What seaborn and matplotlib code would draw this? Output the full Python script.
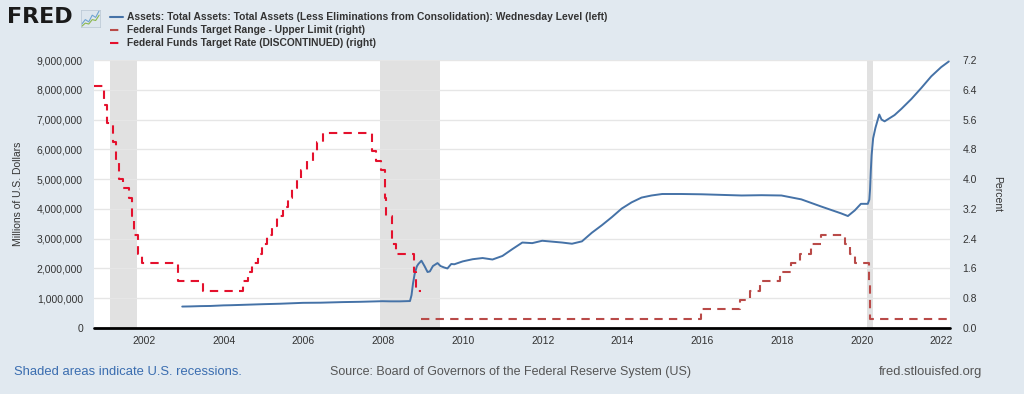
import matplotlib
matplotlib.use('Agg')
import matplotlib.pyplot as plt
import matplotlib.dates as mdates
from matplotlib.lines import Line2D
from matplotlib.ticker import FuncFormatter
import seaborn as sns
import pandas as pd

# Total assets, millions of dollars
asset_dates = [
    "2002-12-18", "2003-03-05", "2003-06-04", "2003-09-03", "2003-12-31", "2004-03-03",
    "2004-06-02", "2004-12-29", "2005-06-01", "2005-12-28", "2006-06-07", "2006-12-27",
    "2007-06-06", "2007-12-26", "2008-03-05", "2008-06-04", "2008-09-03", "2008-09-17",
    "2008-10-01", "2008-10-15", "2008-11-05", "2008-11-19", "2008-12-17", "2009-01-14",
    "2009-02-11", "2009-03-04", "2009-04-01", "2009-05-13", "2009-06-10", "2009-07-15",
    "2009-08-12", "2009-09-16", "2009-10-14", "2009-12-30", "2010-03-31", "2010-06-30",
    "2010-09-29", "2010-12-29", "2011-03-30", "2011-06-29", "2011-09-28", "2011-12-28",
    "2012-03-28", "2012-06-27", "2012-09-26", "2012-12-26", "2013-03-27", "2013-06-26",
    "2013-09-25", "2013-12-25", "2014-03-26", "2014-06-25", "2014-09-24", "2014-12-31",
    "2015-06-24", "2015-12-30", "2016-06-29", "2016-12-28", "2017-06-28", "2017-12-27",
    "2018-06-27", "2018-12-26", "2019-06-26", "2019-08-28", "2019-10-30", "2019-12-25",
    "2020-02-26", "2020-03-11", "2020-03-18", "2020-03-25", "2020-04-01", "2020-04-15",
    "2020-05-06", "2020-06-10", "2020-07-01", "2020-07-29", "2020-10-28", "2020-12-30",
    "2021-03-31", "2021-06-30", "2021-09-29", "2021-12-29", "2022-03-09",
]
asset_values = [
    720000, 725000, 735000, 740000, 760000, 765000,
    775000, 800000, 815000, 845000, 850000, 870000,
    880000, 900000, 895000, 895000, 905000, 1100000,
    1500000, 1800000, 2070000, 2150000, 2260000, 2080000,
    1880000, 1900000, 2080000, 2180000, 2080000, 2030000,
    2000000, 2150000, 2140000, 2237000, 2310000, 2350000,
    2300000, 2420000, 2650000, 2870000, 2850000, 2930000,
    2900000, 2870000, 2830000, 2910000, 3200000, 3450000,
    3720000, 4010000, 4220000, 4380000, 4450000, 4500000,
    4500000, 4490000, 4470000, 4450000, 4460000, 4450000,
    4320000, 4080000, 3850000, 3760000, 3950000, 4170000,
    4170000, 4310000, 4670000, 5300000, 5800000, 6370000,
    6720000, 7170000, 7000000, 6940000, 7150000, 7360000,
    7690000, 8060000, 8450000, 8760000, 8950000,
]

# Federal funds target rate (discontinued), percent
target_dates = [
    "2000-10-01", "2001-01-03", "2001-01-31", "2001-03-20", "2001-04-18", "2001-05-15",
    "2001-06-27", "2001-08-21", "2001-09-17", "2001-10-02", "2001-11-06", "2001-12-11",
    "2002-11-06", "2003-06-25", "2004-06-30", "2004-08-10", "2004-09-21", "2004-11-10",
    "2004-12-14", "2005-02-02", "2005-03-22", "2005-05-03", "2005-06-30", "2005-08-09",
    "2005-09-20", "2005-11-01", "2005-12-13", "2006-01-31", "2006-03-28", "2006-05-10",
    "2006-06-29", "2007-09-18", "2007-10-31", "2007-12-11", "2008-01-22", "2008-01-30",
    "2008-03-18", "2008-04-30", "2008-10-08", "2008-10-29", "2008-12-16",
]
target_values = [
    6.5, 6.0, 5.5, 5.0, 4.5, 4.0,
    3.75, 3.5, 3.0, 2.5, 2.0, 1.75,
    1.25, 1.0, 1.25, 1.5, 1.75, 2.0,
    2.25, 2.5, 2.75, 3.0, 3.25, 3.5,
    3.75, 4.0, 4.25, 4.5, 4.75, 5.0,
    5.25, 4.75, 4.5, 4.25, 3.5, 3.0,
    2.25, 2.0, 1.5, 1.0, 1.0,
]

# Federal funds target range, upper limit, percent
upper_dates = [
    "2008-12-16", "2015-12-17", "2016-12-15", "2017-03-16", "2017-06-15", "2017-12-14",
    "2018-03-22", "2018-06-14", "2018-09-27", "2018-12-20", "2019-08-01", "2019-09-19",
    "2019-10-31", "2020-03-04", "2020-03-16", "2022-03-20",
]
upper_values = [
    0.25, 0.5, 0.75, 1.0, 1.25, 1.5,
    1.75, 2.0, 2.25, 2.5, 2.25, 2.0,
    1.75, 1.25, 0.25, 0.25,
]

recessions = [("2001-03-01", "2001-11-01"), ("2007-12-01", "2009-06-01"), ("2020-02-15", "2020-04-15")]

assets = pd.DataFrame({"date": pd.to_datetime(asset_dates), "value": asset_values})
target = pd.DataFrame({"date": pd.to_datetime(target_dates), "value": target_values})
upper = pd.DataFrame({"date": pd.to_datetime(upper_dates), "value": upper_values})

BG = "#e1e9f0"
BLUE = "#4572a7"
RED = "#e4112d"
BROWN = "#b94a48"
TXT = "#333333"

sns.set_style("white")
plt.rcParams['font.family'] = ['Liberation Sans', 'DejaVu Sans']

fig = plt.figure(figsize=(10.24, 3.94), dpi=100, facecolor=BG)
ax = fig.add_axes([94 / 1024, 1 - 328 / 394, 856 / 1024, 268 / 394])
ax.set_facecolor("white")
ax2 = ax.twinx()

for start, end in recessions:
    ax.axvspan(pd.Timestamp(start), pd.Timestamp(end), color="#e1e1e1", lw=0, zorder=0)

sns.lineplot(data=assets, x="date", y="value", ax=ax, color=BLUE, lw=1.4, zorder=3)
sns.lineplot(data=target, x="date", y="value", ax=ax2, color=RED, lw=1.5,
             drawstyle="steps-post", linestyle=(0, (4, 3)))
sns.lineplot(data=upper, x="date", y="value", ax=ax2, color=BROWN, lw=1.5,
             drawstyle="steps-post", linestyle=(0, (4, 3)))

xmin, xmax = pd.Timestamp("2000-10-01"), pd.Timestamp("2022-03-20")
ax.set_xlim(xmin, xmax)
ax.set_ylim(0, 9000000)
ax2.set_ylim(0, 7.2)
ax.set_yticks(range(0, 9000001, 1000000))
ax2.set_yticks([i * 0.8 for i in range(10)])
ax.yaxis.set_major_formatter(FuncFormatter(lambda v, p: f"{int(v):,}"))
ax2.yaxis.set_major_formatter(FuncFormatter(lambda v, p: f"{v:.1f}"))
ax.xaxis.set_major_locator(mdates.YearLocator(2))
ax.xaxis.set_major_formatter(mdates.DateFormatter("%Y"))

ax.grid(axis="y", color="#e6e6e6", lw=1)
ax.set_axisbelow(True)
for a in (ax, ax2):
    for s in ("top", "left", "right", "bottom"):
        a.spines[s].set_visible(False)
    a.tick_params(length=0, labelsize=7.5, colors=TXT)
ax.axhline(0, color="black", lw=2, zorder=5, clip_on=False)
ax.tick_params(axis="x", pad=6)
ax.tick_params(axis="y", pad=8)
ax2.tick_params(axis="y", pad=9)
ax.set_xlabel("")
ax2.set_xlabel("")
ax.set_ylabel("Millions of U.S. Dollars", fontsize=7.5, color=TXT, labelpad=10)
ax2.set_ylabel("Percent", fontsize=7.5, color=TXT, rotation=270, labelpad=18)

# header: logo + legend
fig.text(7 / 1024, 1 - 17 / 394, "FRED", fontsize=16, fontweight="bold", color="#1a1a1a",
         va="center", ha="left", family="DejaVu Sans")
icon = fig.add_axes([81 / 1024, 1 - 27 / 394, 19 / 1024, 17 / 394])
icon.set_facecolor("#dde6ee")
icon.plot([0, 1, 2, 3, 4, 5], [1, 2, 1.5, 3, 2.5, 4], color="#6fa3d0", lw=0.8)
icon.plot([0, 1, 2, 3, 4, 5], [0.5, 1.2, 1.0, 2.0, 1.8, 3.0], color="#8cb84e", lw=0.8)
icon.set_xticks([])
icon.set_yticks([])
for s in icon.spines.values():
    s.set_color("#b8c6d3")
    s.set_linewidth(0.5)

handles = [
    Line2D([], [], color=BLUE, lw=1.5),
    Line2D([], [], color=BROWN, lw=1.5, linestyle=(0, (4, 3))),
    Line2D([], [], color=RED, lw=1.5, linestyle=(0, (4, 3))),
]
labels = [
    "Assets: Total Assets: Total Assets (Less Eliminations from Consolidation): Wednesday Level (left)",
    "Federal Funds Target Range - Upper Limit (right)",
    "Federal Funds Target Rate (DISCONTINUED) (right)",
]
fig.legend(handles, labels, loc="upper left", bbox_to_anchor=(105 / 1024, 1 - 7 / 394),
           frameon=False, handlelength=1.3, handletextpad=0.4,
           labelspacing=0.3, borderpad=0, prop={"weight": "bold", "size": 7.35},
           labelcolor=TXT)

# footer
fig.text(14 / 1024, 1 - 372 / 394, "Shaded areas indicate U.S. recessions.", fontsize=9.4,
         color="#3a6db0", va="center", ha="left")
fig.text(330 / 1024, 1 - 372 / 394, "Source: Board of Governors of the Federal Reserve System (US)",
         fontsize=9, color="#555555", va="center", ha="left")
fig.text(982 / 1024, 1 - 372 / 394, "fred.stlouisfed.org", fontsize=9.4, color="#555555",
         va="center", ha="right")

fig.savefig("out.png", dpi=100, facecolor=BG)
